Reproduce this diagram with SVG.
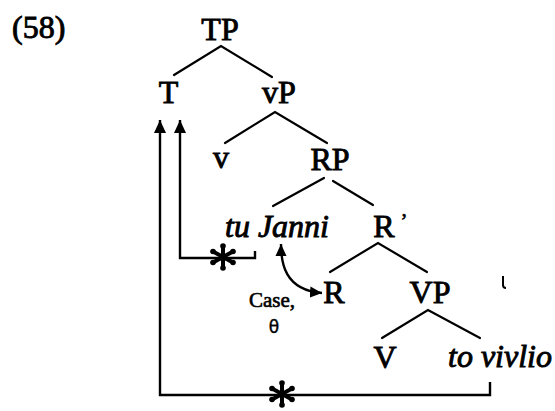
<svg xmlns="http://www.w3.org/2000/svg" width="555" height="411" viewBox="0 0 555 411">
<style>
.lbl{font-family:"Liberation Serif","Times New Roman",serif;font-size:32px;fill:#000;stroke:#000;stroke-width:0.9;text-anchor:middle}
.it{font-style:italic;text-anchor:start}
.sm{font-family:"Liberation Serif","Times New Roman",serif;font-size:21px;fill:#000;stroke:#000;stroke-width:0.6;text-anchor:middle}
.th{font-family:"DejaVu Sans","Liberation Sans",sans-serif;font-size:17px;fill:#000;stroke:#000;stroke-width:0.4;text-anchor:middle}
.br{stroke:#000;stroke-width:2.2;fill:none;stroke-linecap:round}
.ar{stroke:#000;stroke-width:2.4;fill:none}
.star{stroke:#000;stroke-width:4;stroke-linecap:round;fill:none}
</style>
<defs>
<marker id="ah" markerUnits="userSpaceOnUse" markerWidth="14" markerHeight="14" viewBox="0 0 14 14" refX="13" refY="7" orient="auto-start-reverse">
<path d="M0,1 L13,7 L0,13 z" fill="#000"/>
</marker>
<marker id="ahs" markerUnits="userSpaceOnUse" markerWidth="13" markerHeight="13" viewBox="0 0 13 13" refX="12" refY="6.5" orient="auto-start-reverse">
<path d="M0,1 L12,6.5 L0,12 z" fill="#000"/>
</marker>
<g id="starShape">
<path class="star" d="M0,-11 V11 M-10,-5.5 L10,5.5 M-10,5.5 L10,-5.5"/>
<circle cx="0" cy="-11" r="2.8"/><circle cx="0" cy="11" r="2.8"/>
<circle cx="-10" cy="-5.5" r="2.8"/><circle cx="10" cy="5.5" r="2.8"/>
<circle cx="-10" cy="5.5" r="2.8"/><circle cx="10" cy="-5.5" r="2.8"/>
</g>
</defs>
<text x="12" y="38" class="lbl" style="text-anchor:start">(58)</text>
<g id="TP"><text class="lbl" x="220" y="40">TP</text></g>
<g id="T"><text class="lbl" x="168.5" y="103">T</text></g>
<g id="vP"><text class="lbl" x="279" y="103">vP</text></g>
<g id="v"><text class="lbl" x="221" y="168">v</text></g>
<g id="RP"><text class="lbl" x="330" y="170">RP</text></g>
<g id="tuJanni"><text class="lbl it" x="225" y="237">tu Janni</text></g>
<g id="Rbar"><text class="lbl" x="384" y="237">R</text><text class="sm" x="404" y="228">’</text></g>
<g id="R"><text class="lbl" x="334" y="303">R</text></g>
<g id="VP"><text class="lbl" x="430" y="303">VP</text></g>
<g id="V"><text class="lbl" x="385" y="368">V</text></g>
<g id="tovivlio"><text class="lbl it" x="448" y="367">to vivlio</text></g>
<g id="caseLabel"><text class="sm" x="272" y="307">Case,</text><text class="th" x="274" y="333">θ</text></g>
<g id="connectors">
<path class="br" d="M174,75 L221,46 L272,77"/>
<path class="br" d="M225,143 L275,112 L327,143"/>
<path class="br" d="M273,206 L324,178"/>
<path class="br" d="M333,181 L373,205"/>
<path class="br" d="M330,272 L378,243 L427,272"/>
<path class="br" d="M382,338 L428,310 L480,338"/>
<path class="ar" d="M490,382 V395 H160 V120" marker-end="url(#ah)"/>
<path class="ar" d="M255,251 V258 H180 V120" marker-end="url(#ah)"/>
<path class="ar" d="M281,244 C281,262 284,290 322,293" marker-start="url(#ahs)" marker-end="url(#ahs)"/>
</g>
<g id="stars">
<use href="#starShape" x="223" y="257"/>
<use href="#starShape" x="282" y="394"/>
</g>
<path d="M503,276 V285 Q503,288 506,288" stroke="#000" stroke-width="2" fill="none"/>
</svg>
